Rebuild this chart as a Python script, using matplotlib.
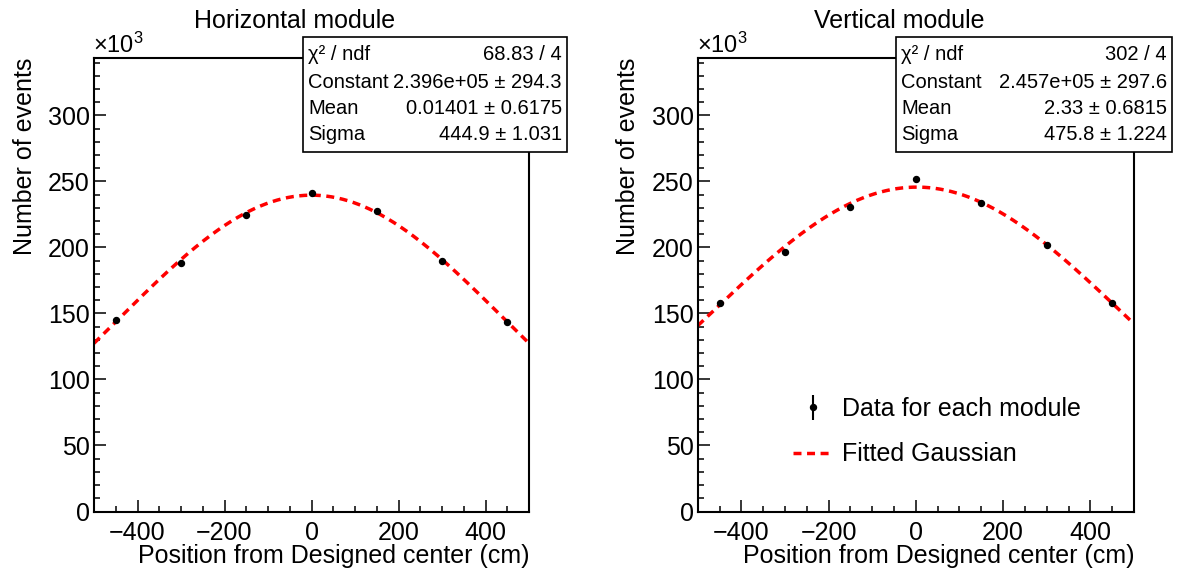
import numpy as np
import matplotlib
matplotlib.use("Agg")
import matplotlib.pyplot as plt
from matplotlib.patches import Rectangle
from matplotlib.ticker import MultipleLocator

plt.rcParams["font.family"] = ["Liberation Sans", "DejaVu Sans"]
plt.rcParams["mathtext.fontset"] = "custom"
plt.rcParams["mathtext.rm"] = "Liberation Sans"
plt.rcParams["mathtext.it"] = "Liberation Sans:italic"

# module positions (cm) and counted events per module
positions = [-450, -300, -150, 0, 150, 300, 450]
counts_horizontal = [144700, 188600, 224700, 241100, 227500, 189800, 143200]
counts_vertical = [158300, 196700, 230500, 252000, 233600, 202000, 158300]

# gaussian fit results: (constant, mean, sigma)
fit_horizontal = (2.396e5, 0.01401, 444.9)
fit_vertical = (2.457e5, 2.33, 475.8)

stats_horizontal = [
    ("\u03c7\u00b2 / ndf", "68.83 / 4"),
    ("Constant", "2.396e+05 \u00b1 294.3"),
    ("Mean", "0.01401 \u00b1 0.6175"),
    ("Sigma", "444.9 \u00b1 1.031"),
]
stats_vertical = [
    ("\u03c7\u00b2 / ndf", "302 / 4"),
    ("Constant", "2.457e+05 \u00b1 297.6"),
    ("Mean", "2.33 \u00b1 0.6815"),
    ("Sigma", "475.8 \u00b1 1.224"),
]

W, H = 1184, 571
FS = 18


def fx(px):
    return px / W


def fy(py):
    return 1 - py / H


def gaus(x, const, mean, sigma):
    return const * np.exp(-0.5 * ((x - mean) / sigma) ** 2)


def draw_panel(fig, rect, title, title_x, counts, fit, stats, box):
    ax = fig.add_axes(rect)
    x = np.asarray(positions, dtype=float)
    y = np.asarray(counts, dtype=float) / 1e3

    xs = np.linspace(-500, 500, 400)
    ax.plot(xs, gaus(xs, *fit) / 1e3, color="red", lw=2.5, dashes=(2.3, 1.6),
            label="Fitted Gaussian", zorder=2)
    ax.plot(x, y, "o", color="black", ms=4.3, zorder=3)

    ax.set_xlim(-500, 500)
    ax.set_ylim(0, 343.5)
    ax.xaxis.set_major_locator(MultipleLocator(200))
    ax.xaxis.set_minor_locator(MultipleLocator(50))
    ax.yaxis.set_major_locator(MultipleLocator(50))
    ax.yaxis.set_minor_locator(MultipleLocator(10))
    ax.tick_params(which="both", direction="in", top=False, right=False,
                   labelsize=FS, width=1.1, colors="black")
    ax.tick_params(which="major", length=8.6)
    ax.tick_params(which="minor", length=4.3)
    ax.tick_params(axis="x", pad=7)
    ax.tick_params(axis="y", pad=3)
    for s in ax.spines.values():
        s.set_linewidth(1.5)

    ax.set_xlabel("Position from Designed center (cm)", fontsize=FS, loc="right")
    ax.xaxis.set_label_coords(1.0, -0.071)
    ax.set_ylabel("Number of events", fontsize=FS, loc="top")
    ax.yaxis.set_label_coords(-0.132, 1.0)

    x0 = rect[0] * W
    fig.text(fx(x0 - 1), fy(53), r"$\times$10$^{3}$", fontsize=17,
             ha="left", va="baseline")
    fig.text(fx(title_x), fy(28), title, fontsize=FS, ha="center", va="baseline")

    # fit statistics box
    bx0, bx1, by0, by1 = box
    fig.add_artist(Rectangle((fx(bx0), fy(by1)), fx(bx1 - bx0), (by1 - by0) / H,
                             transform=fig.transFigure, facecolor="white",
                             edgecolor="black", lw=1.2, zorder=5))
    for (name, val), yc in zip(stats, [55, 82, 108.5, 135]):
        fig.text(fx(bx0 + 5), fy(yc), name, fontsize=14.5, ha="left",
                 va="center", zorder=6)
        fig.text(fx(bx1 - 5), fy(yc), val, fontsize=14.5, ha="right",
                 va="center", zorder=6)
    return ax


fig = plt.figure(figsize=(W / 100, H / 100), dpi=100)

ax_h = draw_panel(fig, [fx(94), 1 - 511.5 / H, 435 / W, 453.5 / H],
                  "Horizontal module", 295, counts_horizontal, fit_horizontal,
                  stats_horizontal, (303.3, 566.7, 36.7, 151.7))
ax_v = draw_panel(fig, [fx(697.7), 1 - 511.5 / H, 436.3 / W, 453.5 / H],
                  "Vertical module", 899, counts_vertical, fit_vertical,
                  stats_vertical, (896, 1171.7, 36.7, 151.7))

# legend entry for data points: marker with vertical error bar
data_handle = ax_v.errorbar([], [], yerr=[], fmt="o", color="black", ms=4.3,
                            elinewidth=1.5, capsize=0, label="Data for each module")
fit_handle = ax_v.get_lines()[0]
ax_v.legend([data_handle, fit_handle], ["Data for each module", "Fitted Gaussian"],
            loc="upper left", bbox_to_anchor=(fx(793), fy(397)),
            bbox_transform=fig.transFigure, frameon=False, fontsize=FS,
            handlelength=1.6, handletextpad=0.35, labelspacing=0.85,
            borderpad=0, borderaxespad=0)

fig.savefig("out.png", dpi=100)
